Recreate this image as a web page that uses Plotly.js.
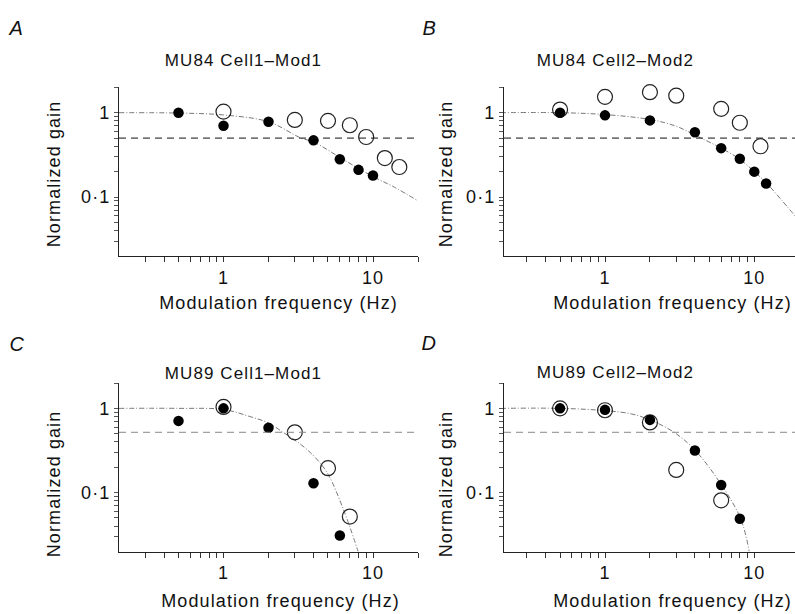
<!DOCTYPE html>
<html>
<head>
<meta charset="utf-8">
<script src="https://cdn.plot.ly/plotly-3.0.1.min.js"></script>
<style>
  html, body { margin: 0; padding: 0; background: #fff; }
  #chart { width: 795px; height: 614px; }
  .main-svg text { letter-spacing: 1.1px; }
</style>
</head>
<body>
<div id="chart"></div>
<script>
// ---------------- data ----------------
const panelLetters = ['A', 'B', 'C', 'D'];
const panelTitles = ['MU84 Cell1–Mod1', 'MU84 Cell2–Mod2', 'MU89 Cell1–Mod1', 'MU89 Cell2–Mod2'];
const xTitle = 'Modulation frequency (Hz)';
const yTitle = 'Normalized gain';
const xTickVals = [0.3, 0.4, 0.5, 0.6, 0.7, 0.8, 0.9, 1, 2, 3, 4, 5, 6, 7, 8, 9, 10, 20];
const xTickText = ['', '', '', '', '', '', '', '1', '', '', '', '', '', '', '', '', '10', ''];
const yTickVals = [0.03, 0.04, 0.05, 0.06, 0.07, 0.08, 0.09, 0.1, 0.2, 0.3, 0.4, 0.5, 0.6, 0.7, 0.8, 0.9, 1, 2];
const yTickText = ['', '', '', '', '', '', '', '0·1', '', '', '', '', '', '', '', '', '1', ''];
const halfGain = [0.5, 0.5, 0.52, 0.52];

// Panel A
const fA_filled = [0.5, 1, 2, 4, 6, 8, 10];
const gA_filled = [1.0, 0.70, 0.78, 0.47, 0.28, 0.21, 0.18];
const fA_open = [1, 3, 5, 7, 9, 12, 15];
const gA_open = [1.03, 0.82, 0.80, 0.71, 0.515, 0.29, 0.227];
const fA_fit = [0.2, 0.5, 1, 2, 3.3, 4, 6.4, 10, 14, 20];
const gA_fit = [1.0, 0.99, 0.94, 0.78, 0.5, 0.45, 0.275, 0.175, 0.13, 0.09];

// Panel B
const fB_filled = [0.5, 1, 2, 4, 6, 8, 10, 12];
const gB_filled = [1.0, 0.93, 0.81, 0.585, 0.38, 0.285, 0.20, 0.145];
const fB_open = [0.5, 1, 2, 3, 6, 8, 11];
const gB_open = [1.09, 1.54, 1.75, 1.59, 1.11, 0.76, 0.40];
const fB_fit = [0.2, 0.5, 1, 2, 3, 4.4, 6, 8, 10, 12, 15, 19];
const gB_fit = [1.0, 1.0, 0.95, 0.83, 0.69, 0.5, 0.38, 0.28, 0.2, 0.148, 0.095, 0.058];

// Panel C
const fC_filled = [0.5, 1, 2, 4, 6];
const gC_filled = [0.71, 1.0, 0.59, 0.129, 0.031];
const fC_open = [1, 3, 5, 7];
const gC_open = [1.04, 0.52, 0.195, 0.052];
const fC_fit = [0.2, 0.5, 1, 1.5, 2, 2.5, 3, 3.8, 4.9, 6.3, 7.95];
const gC_fit = [1.0, 1.0, 0.97, 0.8, 0.67, 0.52, 0.42, 0.30, 0.176, 0.065, 0.02];

// Panel D
const fD_filled = [0.5, 1, 2, 4, 6, 8];
const gD_filled = [1.0, 0.96, 0.73, 0.316, 0.123, 0.049];
const fD_open = [0.5, 1, 2, 3, 6];
const gD_open = [1.0, 0.95, 0.68, 0.186, 0.081];
const fD_fit = [0.2, 0.5, 1, 1.5, 2, 2.9, 4, 6, 8.1, 9.25];
const gD_fit = [1.0, 1.0, 0.94, 0.86, 0.73, 0.52, 0.32, 0.125, 0.049, 0.02];

// ---------------- layout helpers ----------------
const W = 795, H = 614;
const FONT = '"Liberation Sans", Arial, Helvetica, sans-serif';
const px = x => x / W;
const py = y => 1 - y / H;

const panels = [
  {fit: [fA_fit, gA_fit], open: [fA_open, gA_open], filled: [fA_filled, gA_filled],
   xd: [119, 418], yd: [87.3, 256], xr: [Math.log10(0.2), Math.log10(20)],
   letter: [16, 28], title: [243, 60], xt: [278, 303], yt: [54, 174], dashColor: '#111'},
  {fit: [fB_fit, gB_fit], open: [fB_open, gB_open], filled: [fB_filled, gB_filled],
   xd: [504, 795], yd: [87.3, 256], xr: [-0.6765, 1.2726],
   letter: [429, 28], title: [615, 60], xt: [672, 303], yt: [446, 174], dashColor: '#111'},
  {fit: [fC_fit, gC_fit], open: [fC_open, gC_open], filled: [fC_filled, gC_filled],
   xd: [119, 418], yd: [383, 551.5], xr: [Math.log10(0.2), Math.log10(20)],
   letter: [17, 344], title: [243, 373], xt: [280, 601], yt: [54, 484], dashColor: '#888'},
  {fit: [fD_fit, gD_fit], open: [fD_open, gD_open], filled: [fD_filled, gD_filled],
   xd: [504, 795], yd: [383, 551.5], xr: [-0.6765, 1.2726],
   letter: [429, 343], title: [615, 372], xt: [672, 601], yt: [446, 484], dashColor: '#888'}
];

const traces = [];
const layout = {
  width: W, height: H,
  margin: {l: 0, r: 0, t: 0, b: 0},
  paper_bgcolor: '#fff', plot_bgcolor: 'rgba(0,0,0,0)',
  showlegend: false,
  font: {family: FONT, size: 18, color: '#111'},
  annotations: [], shapes: []
};

panels.forEach((p, i) => {
  const n = i + 1;
  const xa = 'x' + (n === 1 ? '' : n), ya = 'y' + (n === 1 ? '' : n);
  const xk = 'xaxis' + (n === 1 ? '' : n), yk = 'yaxis' + (n === 1 ? '' : n);

  layout[xk] = {
    type: 'log', range: p.xr, domain: [px(p.xd[0]), px(p.xd[1])], anchor: ya,
    showline: true, linecolor: '#222', linewidth: 1, zeroline: false, showgrid: false,
    ticks: 'outside', ticklen: 5, tickcolor: '#333', tickwidth: 1,
    tickmode: 'array', tickvals: xTickVals, ticktext: xTickText,
    tickfont: {family: FONT, size: 18, color: '#111'}, ticklabelstandoff: 0,
    fixedrange: true
  };
  layout[yk] = {
    type: 'log', range: [Math.log10(0.02), Math.log10(2)], domain: [py(p.yd[1]), py(p.yd[0])], anchor: xa,
    showline: true, linecolor: '#222', linewidth: 1, zeroline: false, showgrid: false,
    ticks: 'outside', ticklen: 4, tickcolor: '#555', tickwidth: 1,
    tickmode: 'array', tickvals: yTickVals, ticktext: yTickText,
    tickfont: {family: FONT, size: 18, color: '#111'}, ticklabelstandoff: 0,
    fixedrange: true
  };

  // fit curve
  traces.push({
    x: p.fit[0], y: p.fit[1], xaxis: xa, yaxis: ya, type: 'scatter', mode: 'lines',
    line: {color: '#777', width: 1, dash: '5px,2px,1px,2px', shape: 'spline', smoothing: 1},
    hoverinfo: 'skip'
  });
  // open circles
  traces.push({
    x: p.open[0], y: p.open[1], xaxis: xa, yaxis: ya, type: 'scatter', mode: 'markers',
    marker: {symbol: 'circle-open', size: 15, color: '#222', line: {width: 1.2, color: '#222'}},
    cliponaxis: false
  });
  // filled circles
  traces.push({
    x: p.filled[0], y: p.filled[1], xaxis: xa, yaxis: ya, type: 'scatter', mode: 'markers',
    marker: {symbol: 'circle', size: 10.5, color: '#000'},
    cliponaxis: false
  });

  // half-gain dashed line
  layout.shapes.push({
    type: 'line', xref: xa + ' domain', yref: ya, x0: 0, x1: 1, y0: halfGain[i], y1: halfGain[i],
    line: {color: p.dashColor, width: 1, dash: '7px,5px'}
  });

  const ann = (text, x, y, extra) => Object.assign({
    text: text, xref: 'paper', yref: 'paper', x: px(x), y: py(y),
    xanchor: 'center', yanchor: 'middle', showarrow: false,
    font: {family: FONT, size: 18, color: '#111'}
  }, extra || {});

  layout.annotations.push(ann(panelLetters[i], p.letter[0], p.letter[1],
    {font: {family: FONT, size: 20, color: '#111', style: 'italic'}}));
  layout.annotations.push(ann(panelTitles[i], p.title[0], p.title[1],
    {font: {family: FONT, size: 17, color: '#111'}}));
  layout.annotations.push(ann(xTitle, p.xt[0], p.xt[1]));
  layout.annotations.push(ann(yTitle, p.yt[0], p.yt[1], {textangle: -90}));
});

Plotly.newPlot('chart', traces, layout, {displayModeBar: false, staticPlot: true});
</script>
</body>
</html>
